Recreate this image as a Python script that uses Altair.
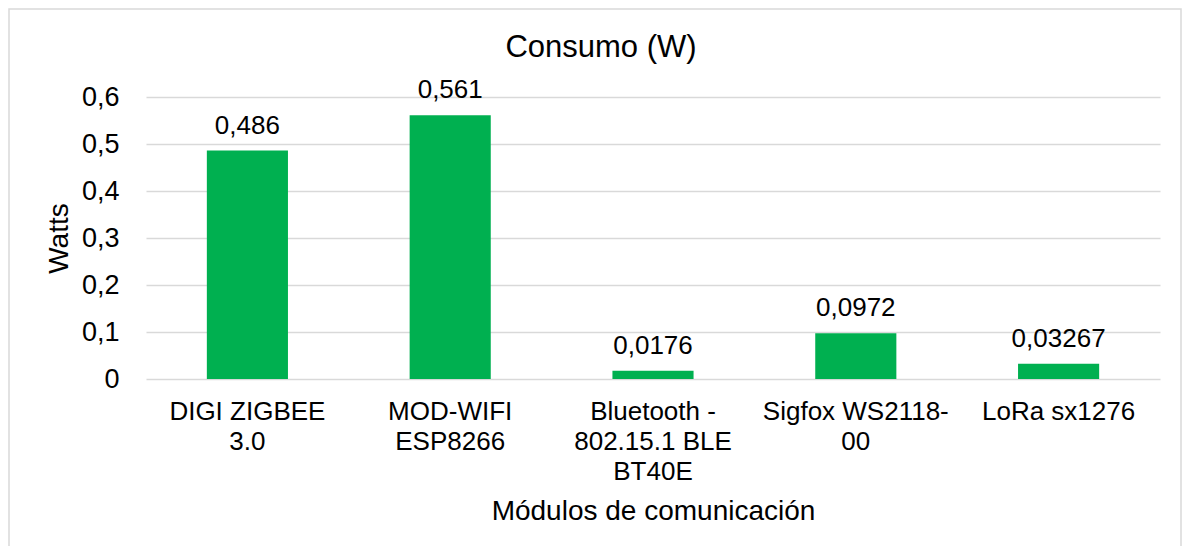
import json
import altair as alt
import pandas as pd

categories = ["DIGI ZIGBEE 3.0", "MOD-WIFI ESP8266", "Bluetooth - 802.15.1 BLE BT40E",
              "Sigfox WS2118-00", "LoRa sx1276"]
label_lines = [["DIGI ZIGBEE", "3.0"], ["MOD-WIFI", "ESP8266"],
               ["Bluetooth -", "802.15.1 BLE", "BT40E"], ["Sigfox WS2118-", "00"],
               ["LoRa sx1276"]]
watts = [0.486, 0.561, 0.0176, 0.0972, 0.03267]
y_ticks = [0, 0.1, 0.2, 0.3, 0.4, 0.5, 0.6]
chart_title = "Consumo (W)"
x_title = "Módulos de comunicación"
y_title = "Watts"

FONT = "Liberation Sans"
GREEN = "#00B050"
GRID = "#D9D9D9"

df = pd.DataFrame({"categoria": categories, "watts": watts})

label_expr = ""
for c, lines in zip(categories, label_lines):
    label_expr += f"datum.value == {json.dumps(c)} ? {json.dumps(lines)} : "
label_expr += "datum.label"

x_enc = alt.X(
    "categoria:N",
    sort=categories,
    scale=alt.Scale(paddingInner=0.6, paddingOuter=0.3),
    axis=alt.Axis(
        title=x_title,
        labelExpr=label_expr,
        labelAngle=0,
        labelAlign="center",
        labelBaseline="top",
        labelFontSize=26,
        labelLineHeight=30,
        labelPadding=19,
        labelLimit=400,
        labelColor="#000000",
        labelFont=FONT,
        ticks=False,
        domain=False,
        grid=False,
        titleFont=FONT,
        titleFontSize=28,
        titleFontWeight="normal",
        titleColor="#000000",
        titleBaseline="alphabetic",
        titleY=140,
    ),
)

y_enc = alt.Y(
    "watts:Q",
    scale=alt.Scale(domain=[0, 0.6], nice=False),
    axis=alt.Axis(
        title=y_title,
        values=y_ticks,
        labelExpr="datum.value == 0 ? '0' : replace(format(datum.value, '.1f'), '.', ',')",
        labelFontSize=27,
        labelFont=FONT,
        labelColor="#000000",
        labelPadding=27,
        ticks=False,
        domain=False,
        grid=True,
        gridColor=GRID,
        gridWidth=1.3,
        titleFont=FONT,
        titleFontSize=28,
        titleFontWeight="normal",
        titleColor="#000000",
        titleBaseline="alphabetic",
        titleX=-79,
        titleAngle=-90,
    ),
)

border = alt.Chart(pd.DataFrame({"a": [0]})).mark_rect(
    fill="transparent", stroke=GRID, strokeWidth=1.5
).encode(
    x=alt.value(-137), x2=alt.value(1035), y=alt.value(-88), y2=alt.value(520)
)

bars = alt.Chart(df).mark_bar(color=GREEN).encode(x=x_enc, y=y_enc)

labels = alt.Chart(df).transform_calculate(
    lbl="replace(toString(datum.watts), '.', ',')"
).mark_text(
    baseline="alphabetic", align="center", dy=-17, fontSize=26, font=FONT, color="#000000"
).encode(x=x_enc, y=y_enc, text="lbl:N")

title = alt.Chart(pd.DataFrame({"t": [chart_title]})).mark_text(
    baseline="alphabetic", align="center", fontSize=31, font=FONT, color="#000000"
).encode(x=alt.value(455), y=alt.value(-40), text="t:N")

chart = alt.layer(border, bars, labels, title).properties(
    width=1014,
    height=282,
    padding={"left": 138, "top": 89, "right": 23, "bottom": 167},
    autosize=alt.AutoSizeParams(type="none"),
    background="white",
).configure_view(stroke="transparent")

chart.save("out.html", embed_options={"renderer": "svg", "actions": False})
